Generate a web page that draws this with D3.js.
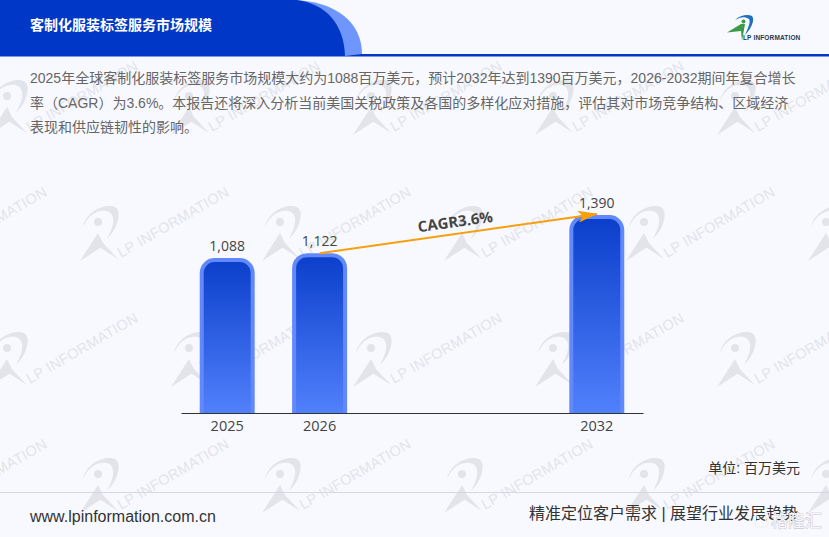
<!DOCTYPE html>
<html>
<head>
<meta charset="utf-8">
<script src="https://cdn.jsdelivr.net/npm/d3@7"></script>
<style>
  html, body { margin: 0; padding: 0; background: #f8f9ff; overflow: hidden; }
  text { font-family: "Liberation Sans", "Noto Sans CJK SC", sans-serif; }
</style>
</head>
<body>
<div id="chart"></div>
<script>
// Data
const categories = ["2025", "2026", "gap1", "gap2", "2032"];
const tickYears = ["2025", "2026", "2032"];
const years = ["2025", "2026", "2032"];
const marketSize = [1088, 1122, 1390];
const cagrLabel = "CAGR3.6%";
const titleText = "客制化服装标签服务市场规模";
const introLines = [
  "2025年全球客制化服装标签服务市场规模大约为1088百万美元，预计2032年达到1390百万美元，2026-2032期间年复合增长",
  "率（CAGR）为3.6%。本报告还将深入分析当前美国关税政策及各国的多样化应对措施，评估其对市场竞争结构、区域经济",
  "表现和供应链韧性的影响。"
];

const width = 829, height = 537;
const baseline = 413;
const labelFont = '"Open Sans", "Noto Sans CJK SC", sans-serif';

const svg = d3.select("#chart")
  .append("svg")
  .attr("width", width)
  .attr("height", height)
  .style("display", "block");

const defs = svg.append("defs");

const grad = defs.append("linearGradient")
  .attr("id", "barFill")
  .attr("x1", 0).attr("y1", 0).attr("x2", 0).attr("y2", 1);
grad.append("stop").attr("offset", "0%").attr("stop-color", "#0b3fcb");
grad.append("stop").attr("offset", "100%").attr("stop-color", "#5180fb");

defs.append("marker")
  .attr("id", "arrow")
  .attr("viewBox", "0 0 20 12")
  .attr("refX", 19)
  .attr("refY", 6)
  .attr("markerWidth", 20)
  .attr("markerHeight", 12)
  .attr("markerUnits", "userSpaceOnUse")
  .attr("orient", "auto")
  .append("path")
  .attr("d", "M0,0 L20,6 L0,12 L5,6 Z")
  .attr("fill", "#f7a00f");

svg.append("rect")
  .attr("width", width).attr("height", height)
  .attr("fill", "#f8f9ff");

// watermark
const swoosh = "M3,21 C6,8 18,0 30,0 C38,0 40,6 38,14 C36,22 32,28 27,33 C31,25 34,18 33,12 C32,6 27,4 21,5 C13,6 7,12 3,21 Z";
const person = "M0,55 L18,27 C19,29 21,33 23,37 L38,53 L21,42 L20,42 Z";

d3.range(0, 4).forEach(r => {
  d3.range(-1, 5).forEach(c => {
    const ox = 80 + c * 182 - (r % 2 === 0 ? 91 : 0);
    const oy = 80 + r * 126;
    const g = svg.append("g")
      .attr("transform", "translate(" + ox + "," + oy + ")")
      .attr("fill", "#e3e4e9");
    g.append("path").attr("d", swoosh);
    g.append("path").attr("d", person);
    g.append("circle").attr("cx", 18).attr("cy", 16).attr("r", 4);
    g.append("text")
      .attr("transform", "translate(41,52) rotate(-30)")
      .attr("font-size", 14.5)
      .attr("letter-spacing", 0.3)
      .text("LP INFORMATION");
  });
});

// header
svg.append("rect")
  .attr("x", 0).attr("y", 54).attr("width", width).attr("height", 2.5)
  .attr("fill", "#0037c6");
svg.append("path")
  .attr("d", "M290,0 C335,0 362,22 362,54 L345,56 L290,56 Z")
  .attr("fill", "#6f96fd");
svg.append("path")
  .attr("d", "M0,0 L297,0 C326,4 344,24 345,56 L0,56 Z")
  .attr("fill", "#0037c6");
svg.append("text")
  .attr("x", 30).attr("y", 30)
  .attr("font-size", 14)
  .attr("font-weight", "bold")
  .attr("fill", "#fff")
  .text(titleText);

// logo top right
const logo = svg.append("g");
logo.append("path")
  .attr("d", "M735,20 C740,15 748,14 752,16 C755,19 752,28 745,35 C748,28 751,22 749,19 C745,16 740,17 735,20 Z")
  .attr("fill", "#1c6fc2");
logo.append("circle").attr("cx", 743.5).attr("cy", 21.5).attr("r", 2).attr("fill", "#3b9c48");
logo.append("path")
  .attr("d", "M727,32.5 L741,24 L745,24 L742,41 L741,31 Z")
  .attr("fill", "#3b9c48");
logo.append("text")
  .attr("x", 743).attr("y", 39.5)
  .attr("font-size", 6.5)
  .attr("font-weight", "bold")
  .attr("letter-spacing", 0.15)
  .attr("fill", "#1d3a57")
  .text("LP INFORMATION");

// intro text
svg.selectAll("text.intro")
  .data(introLines)
  .enter()
  .append("text")
  .attr("class", "intro")
  .attr("x", 30)
  .attr("y", (d, i) => 83 + i * 24.5)
  .attr("font-size", 14)
  .attr("fill", "#666")
  .text(d => d);

// chart
const x = d3.scaleBand()
  .domain(categories)
  .range([181, 643])
  .paddingInner(0.405)
  .paddingOuter(0.2025);

const y = d3.scaleLinear()
  .domain([0, 1390])
  .range([baseline, 215]);

const bars = years.map((year, i) => ({ year: year, value: marketSize[i] }));

function barPath(d) {
  const inset = 2;
  const x0 = x(d.year) + inset;
  const x1 = x(d.year) + x.bandwidth() - inset;
  const top = y(d.value) + inset;
  const r = 13;
  return "M" + x0 + "," + baseline +
    "V" + (top + r) +
    "A" + r + "," + r + " 0 0 1 " + (x0 + r) + "," + top +
    "H" + (x1 - r) +
    "A" + r + "," + r + " 0 0 1 " + x1 + "," + (top + r) +
    "V" + baseline;
}

svg.selectAll("path.bar")
  .data(bars)
  .enter()
  .append("path")
  .attr("class", "bar")
  .attr("d", barPath)
  .attr("fill", "url(#barFill)")
  .attr("stroke", "#6289fc")
  .attr("stroke-width", 4);

svg.selectAll("text.value")
  .data(bars)
  .enter()
  .append("text")
  .attr("class", "value")
  .attr("x", d => x(d.year) + x.bandwidth() / 2)
  .attr("y", d => y(d.value) - 7)
  .attr("text-anchor", "middle")
  .attr("font-size", 14)
  .attr("fill", "#444")
  .style("font-family", labelFont)
  .text(d => d3.format(",")(d.value));

const xAxis = svg.append("g")
  .attr("transform", "translate(0," + baseline + ")")
  .call(d3.axisBottom(x).tickValues(tickYears).tickSize(0).tickPadding(8));
xAxis.select(".domain").attr("stroke", "#333").attr("stroke-width", 1);
xAxis.selectAll("text")
  .attr("font-size", 14.5)
  .attr("fill", "#444")
  .style("font-family", labelFont);

// CAGR arrow
const from = bars[1], to = bars[2];
const ax0 = x(from.year) + x.bandwidth() / 2;
const ax1 = x(to.year) + x.bandwidth() / 2;
svg.append("line")
  .attr("x1", ax0).attr("y1", y(from.value))
  .attr("x2", ax1).attr("y2", y(to.value) - 1)
  .attr("stroke", "#f7a00f")
  .attr("stroke-width", 2)
  .attr("marker-end", "url(#arrow)");

const angle = Math.atan2(y(to.value) - y(from.value), ax1 - ax0) * 180 / Math.PI;
svg.append("text")
  .attr("transform", "translate(456,227) rotate(" + angle + ")")
  .attr("text-anchor", "middle")
  .attr("font-size", 15)
  .attr("font-weight", "bold")
  .attr("fill", "#444")
  .style("font-family", labelFont)
  .text(cagrLabel);

svg.append("text")
  .attr("x", 800).attr("y", 473)
  .attr("text-anchor", "end")
  .attr("font-size", 14)
  .attr("fill", "#333")
  .text("单位: 百万美元");

// footer
svg.append("line")
  .attr("x1", 0).attr("x2", width)
  .attr("y1", 492.5).attr("y2", 492.5)
  .attr("stroke", "#d6d8e0");
svg.append("text")
  .attr("x", 30).attr("y", 522)
  .attr("font-size", 16)
  .attr("fill", "#333")
  .text("www.lpinformation.com.cn");
svg.append("text")
  .attr("x", 798).attr("y", 519)
  .attr("text-anchor", "end")
  .attr("font-size", 16)
  .attr("fill", "#333")
  .text("精准定位客户需求 | 展望行业发展趋势");

// corner stamp
const stamp = svg.append("g");
stamp.append("rect")
  .attr("x", 755).attr("y", 514).attr("width", 13).attr("height", 13).attr("rx", 3)
  .attr("fill", "none")
  .attr("stroke", "#f4f4f6")
  .attr("stroke-width", 2);
stamp.append("text")
  .attr("x", 771).attr("y", 527)
  .attr("font-size", 17)
  .attr("fill", "#f7f7f9")
  .attr("stroke", "#b8b8bc")
  .attr("stroke-width", 0.7)
  .attr("paint-order", "stroke")
  .text("格隆汇");
</script>
</body>
</html>
